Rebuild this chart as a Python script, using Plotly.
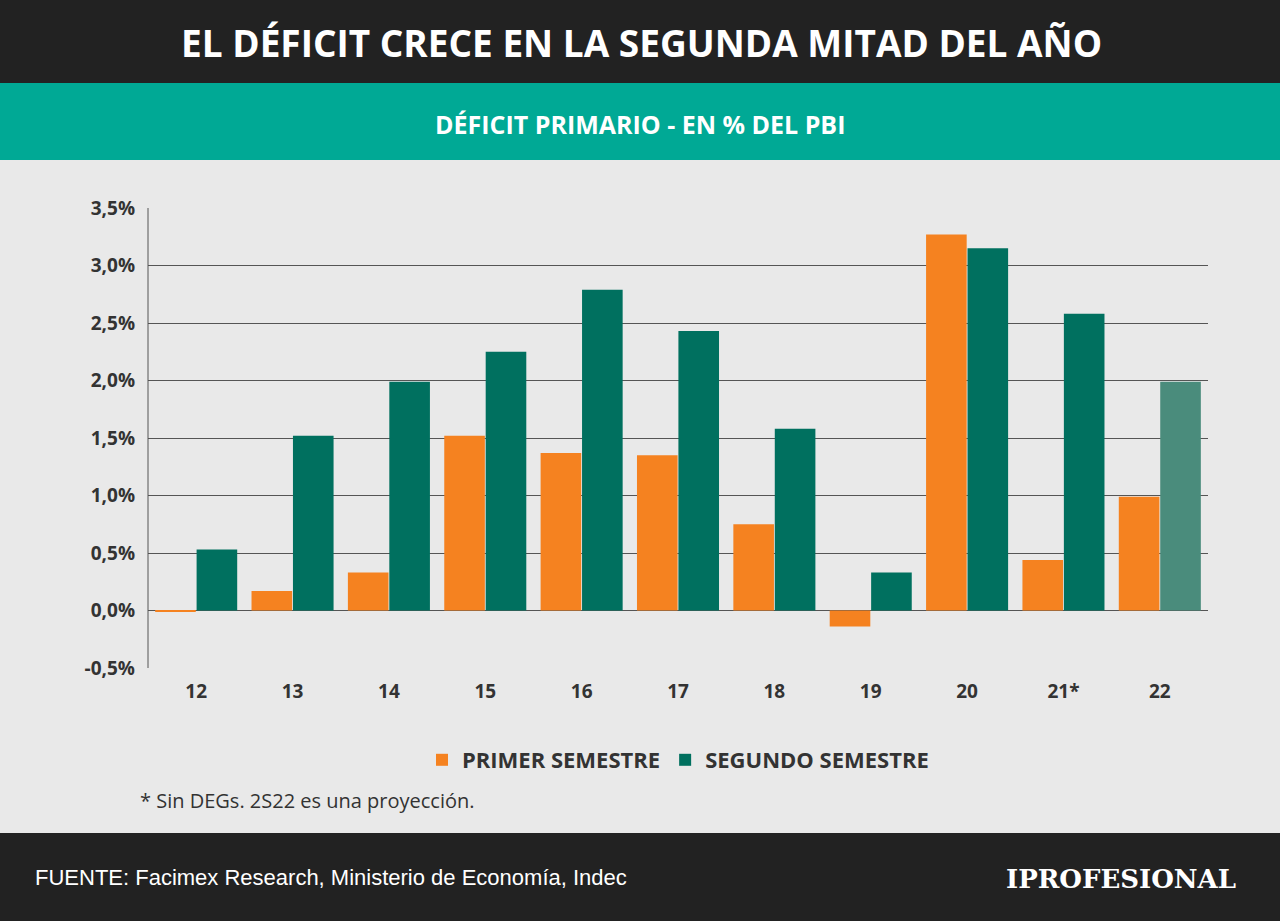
import plotly.graph_objects as go

years = ["12", "13", "14", "15", "16", "17", "18", "19", "20", "21*", "22"]
primer = [-0.01, 0.17, 0.33, 1.52, 1.37, 1.35, 0.75, -0.14, 3.27, 0.44, 0.99]
segundo = [0.53, 1.52, 1.99, 2.25, 2.79, 2.43, 1.58, 0.33, 3.15, 2.58, 1.99]
ticks = [-0.5, 0, 0.5, 1, 1.5, 2, 2.5, 3, 3.5]
tick_text = ["<b>-0,5%</b>", "<b>0,0%</b>", "<b>0,5%</b>", "<b>1,0%</b>", "<b>1,5%</b>",
             "<b>2,0%</b>", "<b>2,5%</b>", "<b>3,0%</b>", "<b>3,5%</b>"]

orange = "#F58220"
green = "#00705F"
seg_colors = [green] * 10 + ["#4A8C7C"]

fig = go.Figure()
fig.add_trace(go.Bar(x=years, y=primer, name="<b>PRIMER SEMESTRE</b>", marker=dict(color=orange, line_width=0)))
fig.add_trace(go.Bar(x=years, y=segundo, name="<b>SEGUNDO SEMESTRE</b>", marker=dict(color=seg_colors, line_width=0)))

font = "Open Sans, Arial"
fig.update_layout(
    width=1280, height=921,
    paper_bgcolor="#E9E9E9", plot_bgcolor="#E9E9E9",
    margin=dict(l=148, r=72, t=208, b=253),
    barmode="group", bargap=0.14, bargroupgap=0.02,
    font=dict(family=font, color="#333333"),
    showlegend=True,
    legend=dict(orientation="h", x=0.5, xanchor="center", y=-0.2, yanchor="middle",
                font=dict(size=22, color="#333333"), itemwidth=30),
    shapes=[
        dict(type="rect", xref="paper", yref="paper", x0=-0.2, x1=1.2, y0=1.0 + 208 / 460, y1=1.0 + 125 / 460, fillcolor="#222222", line_width=0, layer="below"),
        dict(type="rect", xref="paper", yref="paper", x0=-0.2, x1=1.2, y0=1.0 + 125 / 460, y1=1.0 + 48 / 460, fillcolor="#00A995", line_width=0, layer="below"),
        dict(type="rect", xref="paper", yref="paper", x0=-0.2, x1=1.2, y0=-253 / 460, y1=-165 / 460, fillcolor="#222222", line_width=0, layer="below"),
    ],
    annotations=[
        dict(text="<b>EL DÉFICIT CRECE EN LA SEGUNDA MITAD DEL AÑO</b>", xref="paper", yref="paper",
             x=(641 - 148) / 1060, y=1 + 166 / 460, yanchor="middle", showarrow=False, font=dict(size=37, color="white")),
        dict(text="<b>DÉFICIT PRIMARIO - EN % DEL PBI</b>", xref="paper", yref="paper",
             x=(640 - 148) / 1060, y=1 + 84 / 460, yanchor="middle", showarrow=False, font=dict(size=25, color="white")),
        dict(text="* Sin DEGs. 2S22 es una proyección.", xref="paper", yref="paper", xanchor="left",
             x=(138 - 148) / 1060, y=-132 / 460, yanchor="middle", showarrow=False, font=dict(size=20, color="#333333")),
        dict(text="FUENTE: Facimex Research, Ministerio de Economía, Indec", xref="paper", yref="paper", xanchor="left",
             x=(33 - 148) / 1060, y=-209 / 460, yanchor="middle", showarrow=False, font=dict(family="Arial", size=22, color="white")),
        dict(text="<b>IPROFESIONAL</b>", xref="paper", yref="paper", xanchor="right",
             x=(1238 - 148) / 1060, y=-211 / 460, yanchor="middle", showarrow=False, font=dict(family="DejaVu Serif", size=26, color="white")),
    ],
)
fig.update_yaxes(range=[-0.5, 3.5], tickvals=ticks, ticktext=tick_text, showgrid=True, gridcolor="#555555",
                 gridwidth=1, zeroline=True, zerolinecolor="#555555", zerolinewidth=1,
                 tickfont=dict(size=19, color="#333333"), ticks="", ticklabelstandoff=12,
                 showline=False)
fig.update_xaxes(tickvals=years, ticktext=["<b>%s</b>" % y for y in years],
                 tickfont=dict(size=19, color="#333333"), showline=False, ticks="", ticklabelstandoff=10)
fig.add_shape(type="line", xref="paper", yref="paper", x0=0, x1=0, y0=0, y1=1, line=dict(color="#555555", width=1))

fig.write_html("out.html", config={"displayModeBar": False})

# drop the browser's default body margin so the figure fills the window
with open("out.html", encoding="utf-8") as f:
    page = f.read()
page = page.replace("<body>", '<body style="margin:0">', 1)
with open("out.html", "w", encoding="utf-8") as f:
    f.write(page)
